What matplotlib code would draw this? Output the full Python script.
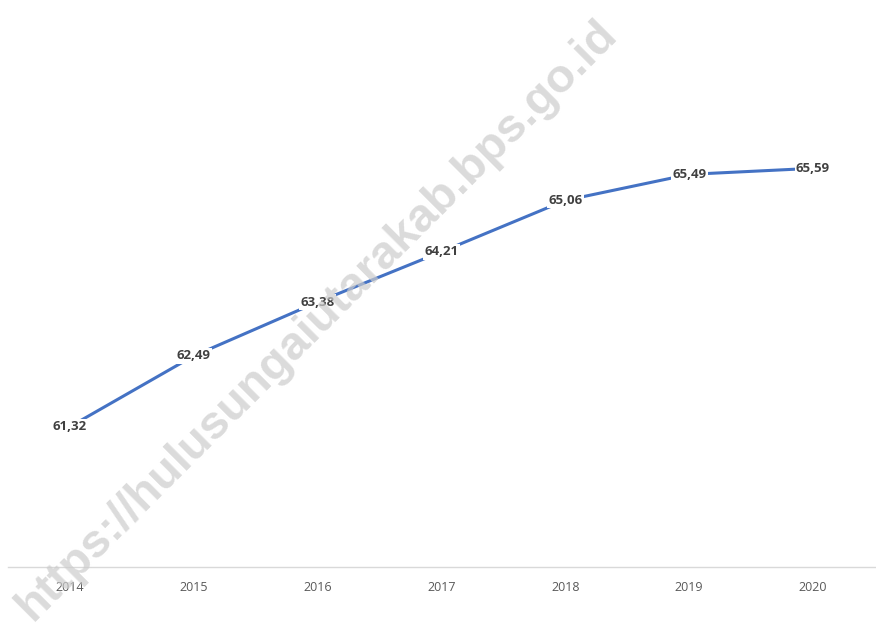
import numpy as np
from matplotlib import pyplot as plt

tahun = ['2014', '2015', '2016', '2017', '2018', '2019', '2020']
nilai = [61.32, 62.49, 63.38, 64.21, 65.06, 65.49, 65.59]

fig = plt.figure(figsize=(8.76, 6.28), dpi=100)
ax = fig.add_axes([0.0091, 0.0971, 0.9897, 0.7707])

x = np.arange(len(tahun))
ax.plot(x, nilai, color='#4472C4', linewidth=2.2, solid_capstyle='round', zorder=2)

for i, v in enumerate(nilai):
    ax.text(x[i], v, ('%.2f' % v).replace('.', ','), ha='center', va='center',
            fontsize=9.5, fontweight='bold', color='#404040', family='Open Sans',
            bbox=dict(boxstyle='square,pad=0.1', fc='white', ec='none'), zorder=3)

ax.set_xlim(-0.5, 6.5)
ax.set_ylim(59, 67)
ax.set_xticks(x)
ax.set_xticklabels(tahun, fontsize=9, color='#595959', family='Open Sans')
ax.tick_params(axis='x', length=0, pad=10)
ax.set_yticks([])
for s in ['top', 'right', 'left']:
    ax.spines[s].set_visible(False)
ax.spines['bottom'].set_color('#d9d9d9')
ax.spines['bottom'].set_linewidth(1)

# watermark
fig.text(0.362, 0.49, 'https://hulusungaiutarakab.bps.go.id', rotation=45,
         ha='center', va='center', fontsize=34, fontweight='bold',
         color='#cccccc', alpha=0.7, family='Liberation Sans', zorder=10)

fig.savefig('out.png', dpi=100, facecolor='white')
